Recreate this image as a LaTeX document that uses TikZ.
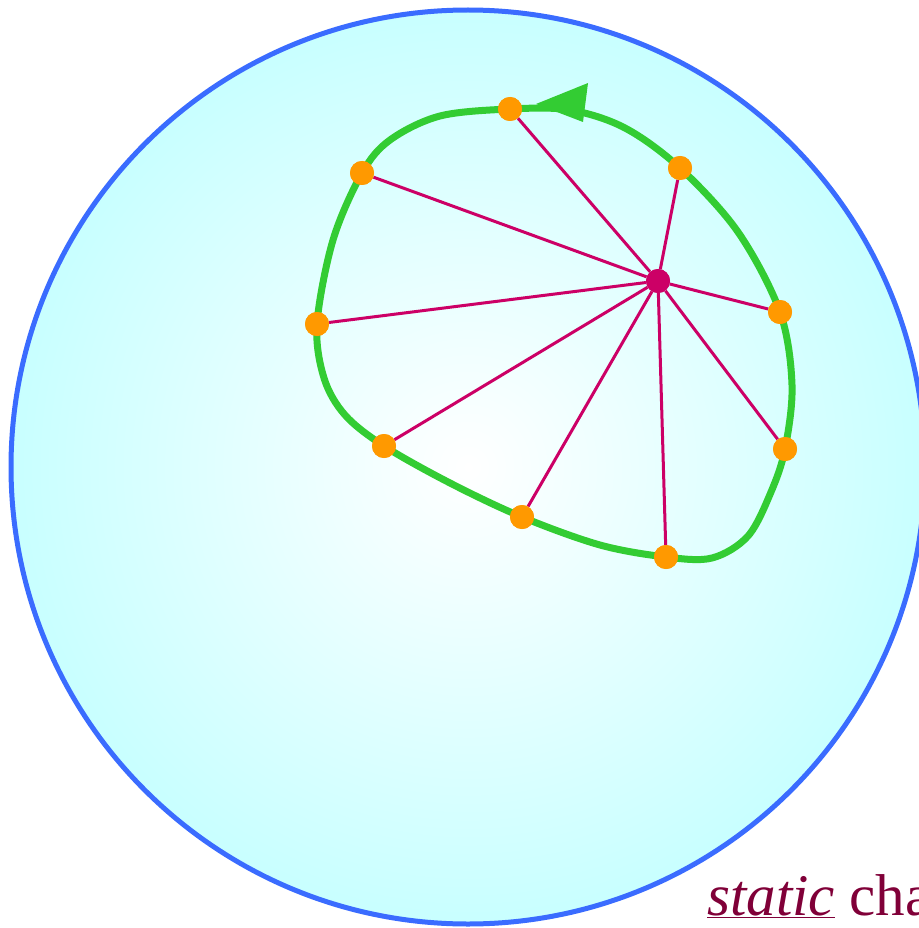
\documentclass[tikz,border=0pt]{standalone}
\usepackage{fontspec}
\setmainfont{Liberation Serif}
\usepackage{xcolor}
\usetikzlibrary{positioning}

\definecolor{sphereblue}{RGB}{58,108,255}
\definecolor{spherecyan}{RGB}{200,255,255}
\definecolor{loopgreen}{RGB}{51,204,51}
\definecolor{spokered}{RGB}{204,0,102}
\definecolor{dotorange}{RGB}{255,153,0}
\definecolor{labelred}{RGB}{128,0,56}

\begin{document}
\begin{tikzpicture}[
    x=1pt, y=-1pt,
    dot/.style={circle, fill=dotorange, inner sep=0pt, minimum size=24pt},
    hub/.style={circle, fill=spokered, inner sep=0pt, minimum size=24pt},
    spoke/.style={spokered, line width=3pt},
    loop/.style={loopgreen, line width=7pt},
]
    \useasboundingbox (0,0) rectangle (918,928);

    % sphere
    \shade[inner color=white, outer color=spherecyan] (468,467) circle (457);
    \draw[sphereblue, line width=5pt] (468,467) circle (457);

    % closed loop
    \draw[loop] plot[smooth cycle, tension=0.55] coordinates {
        (510,109) (440,116) (390,140) (362,173) (333,240) (317,324)
        (324,378) (345,415) (384,446) (450,483) (522,517) (600,545)
        (666,557) (712,558) (748,536) (771,492) (785,449)
        (792,385) (780,312) (738,232) (680,168) (625,128) (570,110)};
    \fill[loopgreen] (536,104) -- (588,83) -- (583,122) -- cycle;

    % charges on the loop
    \node[hub] (c) at (658,281) {};
    \node[dot] (p1) at (510,109) {};
    \node[dot] (p2) at (680,168) {};
    \node[dot] (p3) at (362,173) {};
    \node[dot] (p4) at (317,324) {};
    \node[dot] (p5) at (780,312) {};
    \node[dot] (p6) at (785,449) {};
    \node[dot] (p7) at (384,446) {};
    \node[dot] (p8) at (522,517) {};
    \node[dot] (p9) at (666,557) {};

    \foreach \p in {p1,p2,p3,p4,p5,p6,p7,p8,p9}
        \draw[spoke] (c) -- (\p);
    \node[hub] at (c) {};
    \foreach \p in {p1,p2,p3,p4,p5,p6,p7,p8,p9}
        \node[dot] at (\p) {};

    % label
    \node[anchor=base west, inner sep=0pt, text=labelred,
          font=\fontsize{59}{64}\selectfont] (lbl) at (707,915)
        {\underline{\textit{static}} cha};
\end{tikzpicture}
\end{document}
